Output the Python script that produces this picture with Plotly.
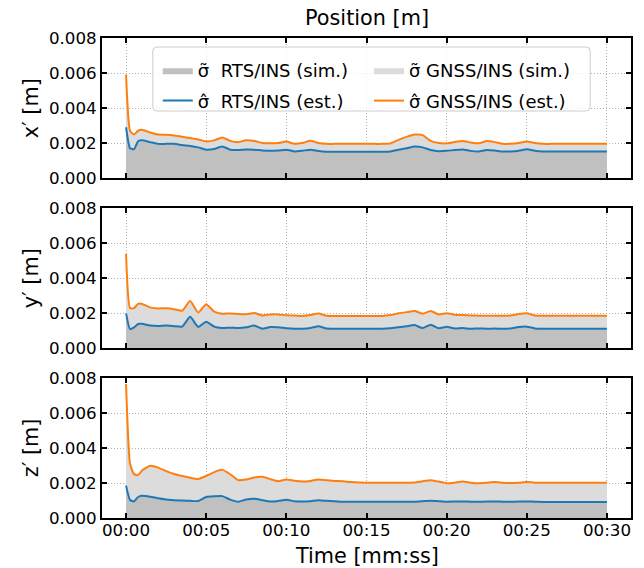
import plotly.graph_objects as go

# ---------------- data ----------------
time_s = [0, 0.25, 0.5, 0.75, 1.0,
          1.5, 2.0, 2.5, 3.0, 3.5, 4.0, 4.5, 5.0, 5.5, 6.0,
          6.5, 7.0, 7.5, 8.0, 8.5, 9.0, 9.5, 10.0, 10.5, 11.0,
          11.5, 12.0, 12.5, 13.0, 13.5, 14.0, 14.5, 15.0, 15.5, 16.0,
          16.5, 17.0, 17.5, 18.0, 18.5, 19.0, 19.5, 20.0, 20.5, 21.0,
          21.5, 22.0, 22.5, 23.0, 23.5, 24.0, 24.5, 25.0, 25.5, 26.0,
          26.5, 27.0, 27.5, 28.0, 28.5, 29.0, 29.5, 30.0]

x_gnss_est = [0.0059, 0.0027, 0.00248, 0.0027, 0.00275,
              0.0026, 0.00248, 0.00247, 0.00243, 0.00236, 0.00228, 0.0022, 0.00209, 0.00215, 0.00232,
              0.00212, 0.00205, 0.00216, 0.00212, 0.002, 0.00198, 0.002, 0.00208, 0.00196, 0.002,
              0.00213, 0.002, 0.00195, 0.00195, 0.00195, 0.00195, 0.00195, 0.00195, 0.00195, 0.00195,
              0.00198, 0.00218, 0.00235, 0.00248, 0.00245, 0.00212, 0.002, 0.00198, 0.00206, 0.00212,
              0.00203, 0.00198, 0.00211, 0.00205, 0.00195, 0.00196, 0.002, 0.00208, 0.002, 0.00195,
              0.00195, 0.00196, 0.00196, 0.00196, 0.00195, 0.00195, 0.00195, 0.00195]
x_gnss_sim = [0.0059, 0.0026, 0.00255, 0.00268, 0.0027,
              0.00262, 0.0025, 0.00252, 0.00245, 0.00238, 0.0023, 0.00221, 0.0021, 0.00214, 0.00228,
              0.00213, 0.00206, 0.00214, 0.00211, 0.00201, 0.00199, 0.00201, 0.00206, 0.00197, 0.002,
              0.0021, 0.00201, 0.00196, 0.00194, 0.00196, 0.00193, 0.00195, 0.00196, 0.00194, 0.00195,
              0.002, 0.00222, 0.00238, 0.00246, 0.0024, 0.00212, 0.00201, 0.00199, 0.00205, 0.0021,
              0.00204, 0.00199, 0.00209, 0.00204, 0.00196, 0.00197, 0.00201, 0.00206, 0.002, 0.00196,
              0.00196, 0.00197, 0.00196, 0.00197, 0.00196, 0.00195, 0.00196, 0.00195]
x_rts_est = [0.0029, 0.0017, 0.00165, 0.0021, 0.00215,
             0.00205, 0.00195, 0.00195, 0.00195, 0.00188, 0.00183, 0.00175, 0.00162, 0.00166, 0.0018,
             0.00162, 0.0016, 0.00163, 0.00162, 0.00157, 0.00155, 0.00157, 0.00162, 0.00152, 0.00156,
             0.00162, 0.00154, 0.0015, 0.0015, 0.0015, 0.0015, 0.0015, 0.0015, 0.0015, 0.0015,
             0.00152, 0.00162, 0.0017, 0.0018, 0.00175, 0.0016, 0.00153, 0.00155, 0.0016, 0.00163,
             0.00155, 0.00152, 0.0016, 0.00157, 0.00151, 0.00152, 0.00156, 0.00164, 0.00156, 0.00152,
             0.00152, 0.00152, 0.00152, 0.00152, 0.00152, 0.00152, 0.00152, 0.00152]
x_rts_sim = [0.0029, 0.00175, 0.0017, 0.00205, 0.0021,
             0.00203, 0.00196, 0.00196, 0.00194, 0.00189, 0.00182, 0.00176, 0.00164, 0.00167, 0.00178,
             0.00163, 0.00161, 0.00162, 0.00161, 0.00158, 0.00156, 0.00157, 0.0016, 0.00153, 0.00156,
             0.0016, 0.00155, 0.00151, 0.0015, 0.00151, 0.0015, 0.0015, 0.00151, 0.0015, 0.0015,
             0.00153, 0.00163, 0.00171, 0.00178, 0.00173, 0.0016, 0.00154, 0.00155, 0.00159, 0.00162,
             0.00156, 0.00153, 0.00159, 0.00157, 0.00152, 0.00153, 0.00156, 0.00162, 0.00156, 0.00153,
             0.00152, 0.00153, 0.00152, 0.00152, 0.00153, 0.00152, 0.00152, 0.00152]

y_gnss_est = [0.00537, 0.00228, 0.00228, 0.00252, 0.00252,
              0.00232, 0.00226, 0.00227, 0.00222, 0.00213, 0.00268, 0.00203, 0.0025, 0.00208, 0.00196,
              0.00197, 0.00194, 0.00193, 0.002, 0.00186, 0.00192, 0.00192, 0.00187, 0.00186, 0.00183,
              0.00188, 0.00197, 0.00184, 0.00183, 0.00183, 0.00183, 0.00183, 0.00183, 0.00183, 0.00183,
              0.00188, 0.00198, 0.00205, 0.00211, 0.00196, 0.00212, 0.00192, 0.00199, 0.0019, 0.00188,
              0.00186, 0.00185, 0.00184, 0.00185, 0.00184, 0.00186, 0.00194, 0.00198, 0.00186, 0.00184,
              0.00184, 0.00184, 0.00184, 0.00184, 0.00184, 0.00184, 0.00184, 0.00184]
y_gnss_sim = [0.00537, 0.0023, 0.00232, 0.0025, 0.0025,
              0.00234, 0.00228, 0.00226, 0.00221, 0.00215, 0.00262, 0.00206, 0.00246, 0.0021, 0.00197,
              0.00196, 0.00195, 0.00194, 0.00198, 0.00188, 0.00191, 0.00191, 0.00188, 0.00186, 0.00184,
              0.00187, 0.00195, 0.00185, 0.00184, 0.00183, 0.00184, 0.00183, 0.00184, 0.00183, 0.00184,
              0.00189, 0.00197, 0.00204, 0.0021, 0.00198, 0.0021, 0.00194, 0.00198, 0.00191, 0.00188,
              0.00187, 0.00186, 0.00185, 0.00185, 0.00185, 0.00187, 0.00193, 0.00196, 0.00187, 0.00185,
              0.00185, 0.00184, 0.00185, 0.00184, 0.00185, 0.00184, 0.00184, 0.00184]
y_rts_est = [0.00198, 0.00108, 0.00118, 0.00137, 0.00138,
             0.00128, 0.00126, 0.00128, 0.00125, 0.00122, 0.00178, 0.0012, 0.0015, 0.00122, 0.00114,
             0.00116, 0.00114, 0.00118, 0.00128, 0.0011, 0.0012, 0.00118, 0.00113, 0.0011, 0.0011,
             0.00114, 0.00125, 0.00111, 0.0011, 0.0011, 0.0011, 0.0011, 0.0011, 0.0011, 0.0011,
             0.00113, 0.00118, 0.00124, 0.00131, 0.00114, 0.00133, 0.00113, 0.00121, 0.00112, 0.00114,
             0.0011, 0.00112, 0.0011, 0.00111, 0.0011, 0.00112, 0.0012, 0.00122, 0.00112, 0.0011,
             0.0011, 0.0011, 0.0011, 0.0011, 0.0011, 0.0011, 0.0011, 0.0011]
y_rts_sim = [0.00198, 0.0011, 0.0012, 0.00135, 0.00136,
             0.00129, 0.00127, 0.00127, 0.00124, 0.00123, 0.00172, 0.00122, 0.00146, 0.00123, 0.00115,
             0.00115, 0.00115, 0.00117, 0.00126, 0.00111, 0.00119, 0.00117, 0.00113, 0.00111, 0.0011,
             0.00113, 0.00123, 0.00112, 0.0011, 0.00111, 0.0011, 0.0011, 0.00111, 0.0011, 0.0011,
             0.00113, 0.00118, 0.00123, 0.00129, 0.00116, 0.00131, 0.00114, 0.0012, 0.00113, 0.00113,
             0.00111, 0.00112, 0.00111, 0.00111, 0.0011, 0.00113, 0.00119, 0.00121, 0.00112, 0.00111,
             0.0011, 0.00111, 0.0011, 0.0011, 0.00111, 0.0011, 0.0011, 0.0011]

z_gnss_est = [0.00766, 0.0031, 0.0025, 0.00245, 0.00272,
              0.00298, 0.00288, 0.00268, 0.00251, 0.0024, 0.0023, 0.00223, 0.0024, 0.00262, 0.00275,
              0.0025, 0.00216, 0.0022, 0.00232, 0.00236, 0.00222, 0.0021, 0.0022, 0.00213, 0.00209,
              0.00212, 0.0022, 0.00216, 0.00212, 0.0021, 0.00206, 0.00203, 0.00202, 0.00202, 0.00202,
              0.00202, 0.00202, 0.00202, 0.00203, 0.0021, 0.00216, 0.00208, 0.00199, 0.00202, 0.00208,
              0.00202, 0.00199, 0.00202, 0.00206, 0.00202, 0.002, 0.00202, 0.00206, 0.00202, 0.00201,
              0.00201, 0.00201, 0.00201, 0.00201, 0.00201, 0.00201, 0.00201, 0.00201]
z_gnss_sim = [0.00766, 0.0032, 0.0026, 0.00252, 0.0027,
              0.00294, 0.00287, 0.0027, 0.00254, 0.00243, 0.00233, 0.00226, 0.00238, 0.00258, 0.0027,
              0.0025, 0.00219, 0.00221, 0.0023, 0.00234, 0.00222, 0.00212, 0.00219, 0.00214, 0.0021,
              0.00212, 0.00219, 0.00217, 0.00213, 0.0021, 0.00207, 0.00204, 0.00203, 0.00202, 0.00203,
              0.00202, 0.00203, 0.00202, 0.00204, 0.00209, 0.00214, 0.00208, 0.002, 0.00203, 0.00207,
              0.00202, 0.002, 0.00203, 0.00205, 0.00202, 0.00201, 0.00202, 0.00205, 0.00202, 0.00201,
              0.00202, 0.00201, 0.00201, 0.00202, 0.00201, 0.00201, 0.00201, 0.00201]
z_rts_est = [0.00185, 0.00103, 0.00095, 0.0012, 0.00127,
             0.00122, 0.00113, 0.00106, 0.00101, 0.001, 0.00098, 0.00097, 0.0012, 0.00124, 0.00125,
             0.00105, 0.00093, 0.00106, 0.0011, 0.00102, 0.00094, 0.00097, 0.00104, 0.00096, 0.00094,
             0.00096, 0.00101, 0.00098, 0.00096, 0.00093, 0.00093, 0.00093, 0.00093, 0.00093, 0.00093,
             0.00093, 0.00093, 0.00093, 0.00093, 0.00096, 0.00099, 0.00096, 0.00093, 0.00094, 0.00095,
             0.00093, 0.00093, 0.00094, 0.00095, 0.00093, 0.00093, 0.00094, 0.00095, 0.00093, 0.00092,
             0.00092, 0.00092, 0.00092, 0.00092, 0.00092, 0.00092, 0.00092, 0.00092]
z_rts_sim = [0.00185, 0.00105, 0.00098, 0.00118, 0.00125,
             0.00121, 0.00112, 0.00107, 0.00102, 0.001, 0.00099, 0.00098, 0.00118, 0.00122, 0.00123,
             0.00106, 0.00095, 0.00105, 0.00108, 0.00102, 0.00095, 0.00097, 0.00103, 0.00097, 0.00095,
             0.00096, 0.001, 0.00098, 0.00096, 0.00094, 0.00093, 0.00094, 0.00093, 0.00093, 0.00094,
             0.00093, 0.00094, 0.00093, 0.00094, 0.00096, 0.00098, 0.00096, 0.00094, 0.00094, 0.00095,
             0.00094, 0.00093, 0.00094, 0.00095, 0.00094, 0.00093, 0.00094, 0.00095, 0.00093, 0.00093,
             0.00092, 0.00093, 0.00092, 0.00092, 0.00093, 0.00092, 0.00092, 0.00092]

panel_labels = ["x\u2032 [m]", "y\u2032 [m]", "z\u2032 [m]"]
x_tick_vals = [0, 5, 10, 15, 20, 25, 30]
x_tick_text = ["00:00", "00:05", "00:10", "00:15", "00:20", "00:25", "00:30"]
y_tick_vals = [0, 0.002, 0.004, 0.006, 0.008]
y_tick_text = ["0.000", "0.002", "0.004", "0.006", "0.008"]

name_rts_sim = "\u03c3\u0303  RTS/INS (sim.)"
name_gnss_sim = "\u03c3\u0303 GNSS/INS (sim.)"
name_rts_est = "\u03c3\u0302  RTS/INS (est.)"
name_gnss_est = "\u03c3\u0302 GNSS/INS (est.)"

# ---------------- figure ----------------
FONT = "DejaVu Sans"
C_DARK = "#c0c0c0"
C_LIGHT = "#dcdcdc"
C_BLUE = "#1f77b4"
C_ORANGE = "#ff7f0e"

panels = [
    (x_gnss_sim, x_rts_sim, x_rts_est, x_gnss_est),
    (y_gnss_sim, y_rts_sim, y_rts_est, y_gnss_est),
    (z_gnss_sim, z_rts_sim, z_rts_est, z_gnss_est),
]

W, H = 644, 568
ML, MR, MT, MB = 102, 11, 38, 50
PW = W - ML - MR
PH = H - MT - MB
panel_px = [(38, 178), (208, 348), (378, 518)]


def py2paper(py):
    return (H - MB - py) / PH


def px2paper(px):
    return (px - ML) / PW


SM = 0.5
fig = go.Figure()
for i, (gsim, rsim, rest, gest) in enumerate(panels):
    xa = "x" if i == 0 else f"x{i+1}"
    ya = "y" if i == 0 else f"y{i+1}"
    first = i == 0
    fig.add_trace(go.Scatter(x=time_s, y=gsim, mode="lines", fill="tozeroy",
                             fillcolor=C_LIGHT,
                             line=dict(width=0, color=C_LIGHT, shape="spline", smoothing=SM),
                             name=name_gnss_sim, legend="legend2", legendgroup="gs",
                             showlegend=first, xaxis=xa, yaxis=ya, hoverinfo="skip"))
    fig.add_trace(go.Scatter(x=time_s, y=rsim, mode="lines", fill="tozeroy",
                             fillcolor=C_DARK,
                             line=dict(width=0, color=C_DARK, shape="spline", smoothing=SM),
                             name=name_rts_sim, legend="legend", legendgroup="rs",
                             showlegend=first, xaxis=xa, yaxis=ya, hoverinfo="skip"))
    fig.add_trace(go.Scatter(x=time_s, y=rest, mode="lines",
                             line=dict(width=2, color=C_BLUE, shape="spline", smoothing=SM),
                             name=name_rts_est, legend="legend", legendgroup="re",
                             showlegend=first, xaxis=xa, yaxis=ya))
    fig.add_trace(go.Scatter(x=time_s, y=gest, mode="lines",
                             line=dict(width=2, color=C_ORANGE, shape="spline", smoothing=SM),
                             name=name_gnss_est, legend="legend2", legendgroup="ge",
                             showlegend=first, xaxis=xa, yaxis=ya))

axis_common = dict(showline=True, linecolor="black", linewidth=2, mirror="ticks",
                   ticks="inside", ticklen=5, tickwidth=1.5, tickcolor="black",
                   showgrid=True, gridcolor="#b0b0b0", griddash="1px,2px", gridwidth=1,
                   zeroline=False, tickfont=dict(family=FONT, size=16.7, color="black"))

layout = dict(width=W, height=H, margin=dict(l=ML, r=MR, t=MT, b=MB),
              plot_bgcolor="white", paper_bgcolor="white",
              font=dict(family=FONT, color="black"))
for i, (top, bot) in enumerate(panel_px):
    suf = "" if i == 0 else str(i + 1)
    layout["xaxis" + suf] = dict(axis_common, range=[-1.5, 31.5], tickvals=x_tick_vals,
                                 ticktext=x_tick_text, showticklabels=(i == 2),
                                 ticklabelstandoff=-4,
                                 anchor="y" + suf, domain=[0, 1],
                                 **({} if i == 0 else {"matches": "x"}))
    layout["yaxis" + suf] = dict(axis_common, range=[0, 0.008], tickvals=y_tick_vals,
                                 ticktext=y_tick_text, anchor="x" + suf,
                                 domain=[py2paper(bot), py2paper(top)])

legend_common = dict(bgcolor="rgba(0,0,0,0)", borderwidth=0, orientation="v",
                     xanchor="left", yanchor="top", tracegroupgap=4,
                     font=dict(family=FONT, size=18, color="black"), itemwidth=30)
layout["legend"] = dict(legend_common, x=px2paper(158), y=py2paper(52))
layout["legend2"] = dict(legend_common, x=px2paper(370), y=py2paper(52))

fig.update_layout(**layout)

# legend frame
bx0, bx1 = px2paper(153), px2paper(592)
by0, by1 = py2paper(111), py2paper(47)
rx, ry = 4 / PW, 4 / PH
path = (f"M{bx0+rx},{by1} L{bx1-rx},{by1} Q{bx1},{by1} {bx1},{by1-ry} "
        f"L{bx1},{by0+ry} Q{bx1},{by0} {bx1-rx},{by0} L{bx0+rx},{by0} "
        f"Q{bx0},{by0} {bx0},{by0+ry} L{bx0},{by1-ry} Q{bx0},{by1} {bx0+rx},{by1} Z")
fig.add_shape(type="path", path=path, xref="paper", yref="paper", layer="above",
              fillcolor="rgba(255,255,255,0.8)", line=dict(color="#cccccc", width=1))

# titles
fig.add_annotation(text="Position [m]", x=0.5, y=py2paper(18), xref="paper", yref="paper",
                   showarrow=False, xanchor="center", yanchor="middle",
                   font=dict(family=FONT, size=20.8, color="black"))
fig.add_annotation(text="Time [mm:ss]", x=0.5, y=py2paper(556), xref="paper", yref="paper",
                   showarrow=False, xanchor="center", yanchor="middle",
                   font=dict(family=FONT, size=20.8, color="black"))
for lab, (top, bot) in zip(panel_labels, panel_px):
    fig.add_annotation(text=lab, x=px2paper(31), y=py2paper((top + bot) / 2),
                       xref="paper", yref="paper", showarrow=False, textangle=-90,
                       xanchor="center", yanchor="middle",
                       font=dict(family=FONT, size=20.8, color="black"))

fig.write_html("out.html")
